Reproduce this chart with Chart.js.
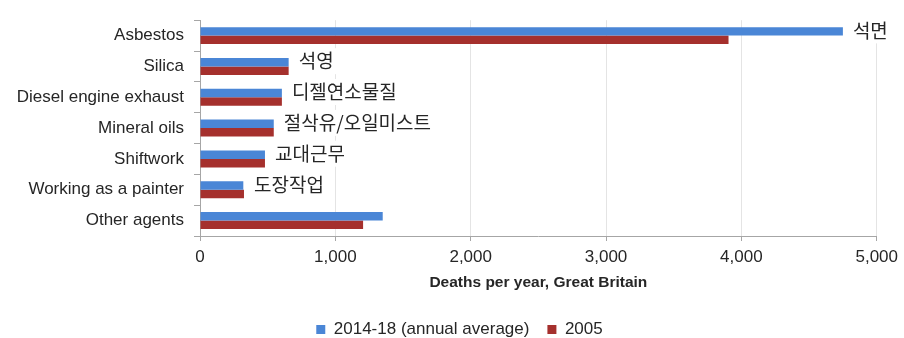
<!DOCTYPE html>
<html>
<head>
<meta charset="utf-8">
<script src="https://cdn.jsdelivr.net/npm/chart.js@4"></script>
<style>
    html, body { margin: 0; padding: 0; background: #fff; }
    #wrap { width: 904px; height: 338px; }
</style>
</head>
<body>
<div id="wrap"><canvas id="deathChart" width="904" height="338"></canvas></div>
<script>
// === データ ===
const agents = ['Asbestos', 'Silica', 'Diesel engine exhaust', 'Mineral oils', 'Shiftwork', 'Working as a painter', 'Other agents'];
const agentsKo = ['석면', '석영', '디젤연소물질', '절삭유/오일미스트', '교대근무', '도장작업', ''];
const deaths2014to18 = [4750, 655, 605, 545, 480, 320, 1350];
const deaths2005 = [3905, 655, 605, 545, 480, 325, 1205];
const xTicks = [0, 1000, 2000, 3000, 4000, 5000];

const BLUE = '#4a86d6';
const RED = '#a5302d';

Chart.defaults.font.family = "'Liberation Sans', Arial, sans-serif";
Chart.defaults.font.size = 17;
Chart.defaults.color = '#262626';

// 棒の右端に韓国語ラベルを描く
const koLabelPlugin = {
    id: 'koLabels',
    afterDatasetsDraw(chart) {
        const ctx = chart.ctx;
        const m0 = chart.getDatasetMeta(0);
        const m1 = chart.getDatasetMeta(1);
        ctx.save();
        ctx.font = "19px 'Noto Sans CJK KR', sans-serif";
        ctx.textBaseline = 'middle';
        ctx.textAlign = 'left';
        agentsKo.forEach((txt, i) => {
            if (!txt) return;
            const a = m0.data[i], b = m1.data[i];
            const x = Math.max(a.x, b.x) + 10;
            const y = a.y - 1;
            const w = ctx.measureText(txt).width;
            ctx.fillStyle = '#fff';
            ctx.fillRect(x - 3, y - 13, w + 6, 26);
            ctx.fillStyle = '#262626';
            ctx.fillText(txt, x, y);
        });
        ctx.restore();
    }
};

// 凡例を少し右へずらす
const legendShift = {
    id: 'legendShift',
    afterLayout(chart) {
        chart.legend.left += 40;
    }
};

new Chart(document.getElementById('deathChart'), {
    type: 'bar',
    data: {
        labels: agents,
        datasets: [
            {
                label: '2014-18 (annual average)',
                data: deaths2014to18,
                backgroundColor: BLUE,
                barPercentage: 1.0,
                categoryPercentage: 0.55,
            },
            {
                label: '2005',
                data: deaths2005,
                backgroundColor: RED,
                barPercentage: 1.0,
                categoryPercentage: 0.55,
            },
        ],
    },
    options: {
        indexAxis: 'y',
        responsive: false,
        animation: false,
        layout: { padding: { left: 0, right: 25, top: 17, bottom: -10 } },
        plugins: {
            tooltip: { enabled: false },
            legend: {
                position: 'bottom',
                labels: {
                    boxWidth: 9,
                    boxHeight: 9,
                    padding: 18,
                    color: '#262626',
                    font: { size: 17 },
                },
            },
        },
        scales: {
            x: {
                min: 0,
                max: 5000,
                afterBuildTicks: scale => {
                    scale.ticks = xTicks.map(v => ({ value: v }));
                },
                afterFit: scale => { scale.height = 67; },
                grid: {
                    color: '#e4e4e4',
                    tickColor: '#a6a6a6',
                    tickLength: 5,
                },
                border: { color: '#a6a6a6' },
                ticks: { padding: 6, color: '#262626' },
                title: {
                    display: true,
                    text: 'Deaths per year, Great Britain',
                    font: { size: 15.5, weight: 'bold' },
                    color: '#262626',
                    padding: { top: 4, bottom: 11 },
                },
            },
            y: {
                afterFit: scale => { scale.width = 200; },
                grid: {
                    drawOnChartArea: false,
                    offset: true,
                    tickColor: '#a6a6a6',
                    tickLength: 6,
                },
                border: { color: '#a6a6a6' },
                ticks: { padding: 10, color: '#262626' },
            },
        },
    },
    plugins: [koLabelPlugin, legendShift],
});
</script>
</body>
</html>
